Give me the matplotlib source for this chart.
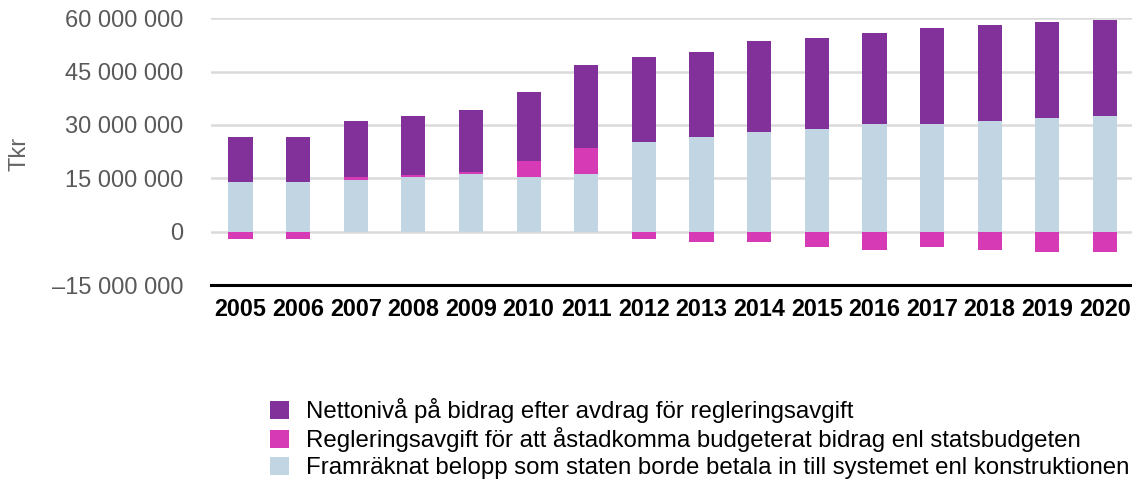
import matplotlib
matplotlib.use("Agg")
import matplotlib.pyplot as plt
import numpy as np
from matplotlib.ticker import FuncFormatter, MultipleLocator

plt.rcParams['font.family'] = ['Liberation Sans', 'DejaVu Sans']

years = ["2005", "2006", "2007", "2008", "2009", "2010", "2011", "2012",
         "2013", "2014", "2015", "2016", "2017", "2018", "2019", "2020"]

# Tkr
framraknat = [14.0e6, 14.0e6, 14.6e6, 15.5e6, 16.3e6, 15.5e6, 16.3e6, 25.3e6,
              26.7e6, 28.0e6, 28.9e6, 30.3e6, 30.3e6, 31.1e6, 32.0e6, 32.5e6]
reglering = [-2.0e6, -2.0e6, 0.9e6, 0.5e6, 0.6e6, 4.5e6, 7.3e6, -2.0e6,
             -2.9e6, -2.9e6, -4.3e6, -5.2e6, -4.3e6, -5.2e6, -5.7e6, -5.7e6]
netto = [12.7e6, 12.7e6, 15.7e6, 16.6e6, 17.4e6, 19.4e6, 23.4e6, 23.9e6,
         23.9e6, 25.6e6, 25.6e6, 25.6e6, 27.0e6, 27.0e6, 27.0e6, 27.0e6]

labels = ["Nettonivå på bidrag efter avdrag för regleringsavgift",
          "Regleringsavgift för att åstadkomma budgeterat bidrag enl statsbudgeten",
          "Framräknat belopp som staten borde betala in till systemet enl konstruktionen"]

c_netto = "#82309A"
c_regl = "#D63AB5"
c_fram = "#C1D6E2"

W, H = 1132, 483
fig = plt.figure(figsize=(W / 100, H / 100), dpi=100)
ax = fig.add_axes([211 / W, 1 - 285 / H, (W - 211) / W, (285 - 18.3) / H])

x = np.arange(len(years))
fram = np.array(framraknat)
reg = np.array(reglering)
net = np.array(netto)
bw = 0.42

reg_bottom = np.where(reg > 0, fram, 0)
net_bottom = fram + np.clip(reg, 0, None)

b_fram = ax.bar(x, fram, bw, color=c_fram, zorder=3, label=labels[2])
b_reg = ax.bar(x, reg, bw, bottom=reg_bottom, color=c_regl, zorder=3, label=labels[1])
b_net = ax.bar(x, net, bw, bottom=net_bottom, color=c_netto, zorder=3, label=labels[0])

ax.set_ylim(-15e6, 60e6)
ax.set_xlim(-0.512, 15.47)
ax.yaxis.set_major_locator(MultipleLocator(15e6))


def fmt(v, pos):
    s = f"{abs(v):,.0f}".replace(",", " ")
    return ("–" + s) if v < 0 else s


ax.yaxis.set_major_formatter(FuncFormatter(fmt))
ax.grid(axis='y', color='#DADADA', linewidth=1.8, zorder=0)
ax.set_axisbelow(True)
for s in ['top', 'right', 'left']:
    ax.spines[s].set_visible(False)
ax.spines['bottom'].set_color('black')
ax.spines['bottom'].set_linewidth(2.2)
ax.spines['bottom'].set_zorder(4)

ax.set_xticks(x)
ax.set_xticklabels(years, fontsize=16.8, fontweight='bold', color='black')
ax.tick_params(axis='x', length=0, pad=9)
ax.tick_params(axis='y', length=0, pad=20, labelsize=17, labelcolor='#595959')

fig.text(20 / W, 1 - 154 / H, "Tkr", rotation=90, fontsize=17, color='#666666',
         ha='center', va='center')

fig.legend([b_net, b_reg, b_fram], labels, loc='upper left',
           bbox_to_anchor=(270 / W, 1 - 398 / H), frameon=False,
           fontsize=17.3, handlelength=0.78, handleheight=0.78,
           handletextpad=0.72, labelspacing=0.18, borderaxespad=0, borderpad=0)

fig.savefig("out.png", dpi=100)
